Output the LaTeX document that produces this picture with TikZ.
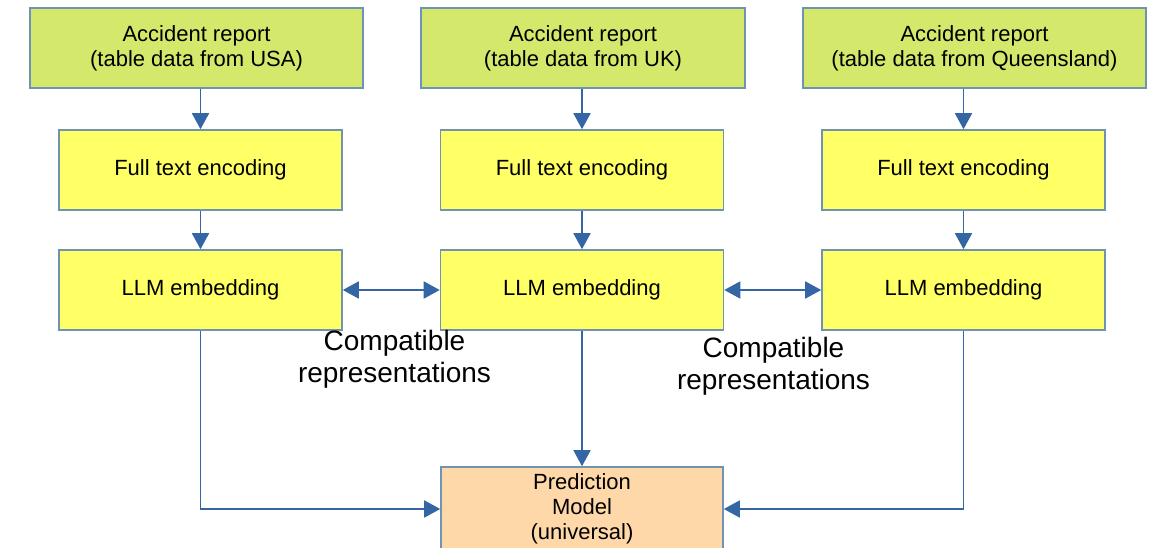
\documentclass[tikz,border=0pt]{standalone}
\usepackage{fontspec}
\setmainfont{Liberation Sans}
\usetikzlibrary{arrows.meta}
\definecolor{boxgreen}{HTML}{D4E86C}
\definecolor{boxyellow}{HTML}{FFFF66}
\definecolor{boxpeach}{HTML}{FFD8AA}
\definecolor{boxline}{HTML}{7093B3}
\definecolor{arrowblue}{HTML}{3465A4}
\begin{document}
\begin{tikzpicture}[x=1pt,y=-1pt,
  box/.style={draw=boxline, line width=1.6pt, inner sep=0pt, align=center,
    font=\fontsize{22}{25}\selectfont, text=black},
  srcbox/.style={box, fill=boxgreen, minimum height=80pt},
  stepbox/.style={box, fill=boxyellow, minimum width=283pt, minimum height=80pt},
  predbox/.style={box, fill=boxpeach, minimum width=282pt, minimum height=84pt},
  conn/.style={draw=arrowblue, line width=1.8pt, -{Triangle[length=16pt,width=17pt]}},
  biconn/.style={draw=arrowblue, line width=1.8pt, {Triangle[length=16pt,width=17pt]}-{Triangle[length=16pt,width=17pt]}},
  lab/.style={align=center, inner sep=0pt, font=\fontsize{28}{32}\selectfont, text=black}]
\useasboundingbox (0,0) rectangle (1160,548);
\fill[white] (0,0) rectangle (1160,548);

\node[srcbox, minimum width=333pt] (A1) at (196.5,48) {Accident report\\(table data from USA)};
\node[srcbox, minimum width=324pt] (A2) at (583,48) {Accident report\\(table data from UK)};
\node[srcbox, minimum width=343pt] (A3) at (974.5,48) {Accident report\\(table data from Queensland)};

\node[stepbox] (B1) at (200.5,170) {Full text encoding};
\node[stepbox] (B2) at (582,170) {Full text encoding};
\node[stepbox] (B3) at (963.5,170) {Full text encoding};

\node[stepbox] (C1) at (200.5,290) {LLM embedding};
\node[stepbox] (C2) at (582,290) {LLM embedding};
\node[stepbox] (C3) at (963.5,290) {LLM embedding};

\node[predbox] (P) at (582,509) {Prediction\\Model\\(universal)};

\node[lab] (L1) at (394.5,359) {Compatible\\representations};
\node[lab] (L2) at (773.5,366) {Compatible\\representations};

\draw[conn] (A1.south -| B1.north) -- (B1.north);
\draw[conn] (A2.south -| B2.north) -- (B2.north);
\draw[conn] (A3.south -| B3.north) -- (B3.north);

\draw[conn] (B1) -- (C1);
\draw[conn] (B2) -- (C2);
\draw[conn] (B3) -- (C3);

\draw[biconn] (C1) -- (C2);
\draw[biconn] (C2) -- (C3);

\draw[conn] (C2) -- (P);
\draw[conn] (C1.south) |- (P.west);
\draw[conn] (C3.south) |- (P.east);
\end{tikzpicture}
\end{document}
